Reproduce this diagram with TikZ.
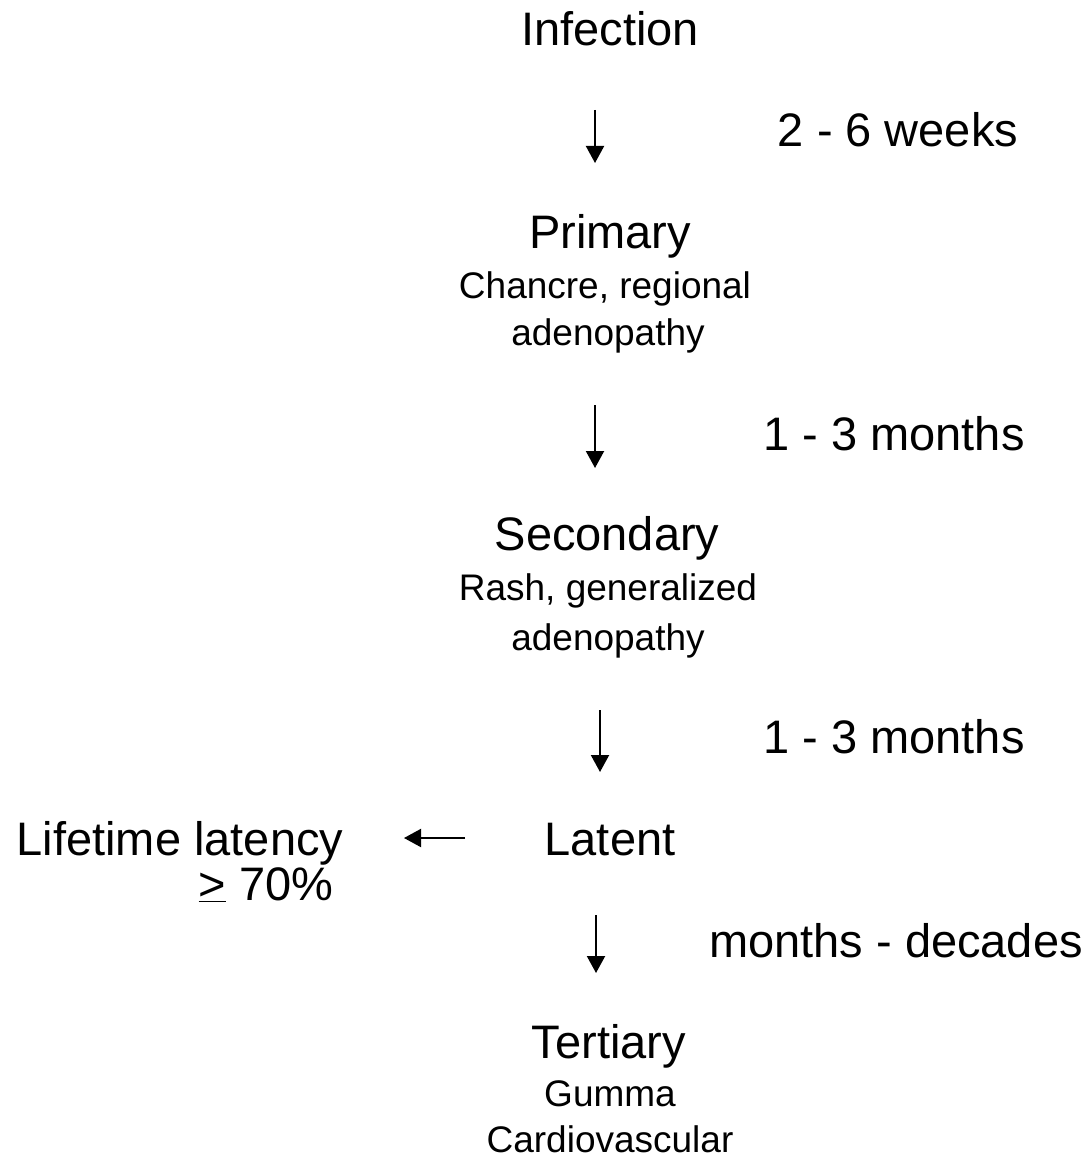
\documentclass[tikz,border=0pt]{standalone}
\usepackage{fontspec}
\setmainfont{Liberation Sans}
\usetikzlibrary{arrows.meta}

\begin{document}
\begin{tikzpicture}[x=1pt, y=-1pt,
  stage/.style={anchor=base, inner sep=0pt, font=\fontsize{47}{56}\selectfont},
  sign/.style={anchor=base, inner sep=0pt, font=\fontsize{37}{44}\selectfont},
  period/.style={anchor=base, inner sep=0pt, font=\fontsize{47}{56}\selectfont},
  arr/.style={-{Triangle[width=18pt, length=17pt]}, line width=2pt}]

\useasboundingbox (0,0) rectangle (1090,1158);

% The stages down the middle
\node [stage] (infection) at (610, 46) {Infection};
\node [stage] (primary) at (610, 248) {Primary};
\node [sign] (chancre) at (605, 298) {Chancre, regional};
\node [sign] (adenoA) at (608, 345) {adenopathy};
\node [stage] (secondary) at (607, 550) {Secondary};
\node [sign] (rash) at (608, 600) {Rash, generalized};
\node [sign] (adenoB) at (608, 650) {adenopathy};
\node [stage] (latent) at (610, 855) {Latent};
\node [stage] (tertiary) at (609, 1058) {Tertiary};
\node [sign] (gumma) at (610, 1106) {Gumma};
\node [sign] (cardio) at (610, 1152) {Cardiovascular};

% Lifetime latency on the left
\node [stage] (lifetime) at (180, 855) {Lifetime latency};
\node [stage] (share) at (266, 900) {\underline{>} 70\%};

% Times between the stages
\node [period] (tA) at (898, 147) {2 - 6 weeks};
\node [period] (tB) at (894, 450) {1 - 3 months};
\node [period] (tC) at (894, 753) {1 - 3 months};
\node [period] (tD) at (896, 957) {months - decades};

% Arrows
\coordinate (aA) at (595, 110);  \coordinate (bA) at (595, 163);
\coordinate (aB) at (595, 405);  \coordinate (bB) at (595, 468);
\coordinate (aC) at (600, 710);  \coordinate (bC) at (600, 772);
\coordinate (aD) at (596, 915);  \coordinate (bD) at (596, 973);
\coordinate (aL) at (465, 838);  \coordinate (bL) at (404, 838);
\foreach \s/\e in {aA/bA, aB/bB, aC/bC, aD/bD, aL/bL} {
  \draw [arr] (\s) -- (\e);
}
\end{tikzpicture}
\end{document}
